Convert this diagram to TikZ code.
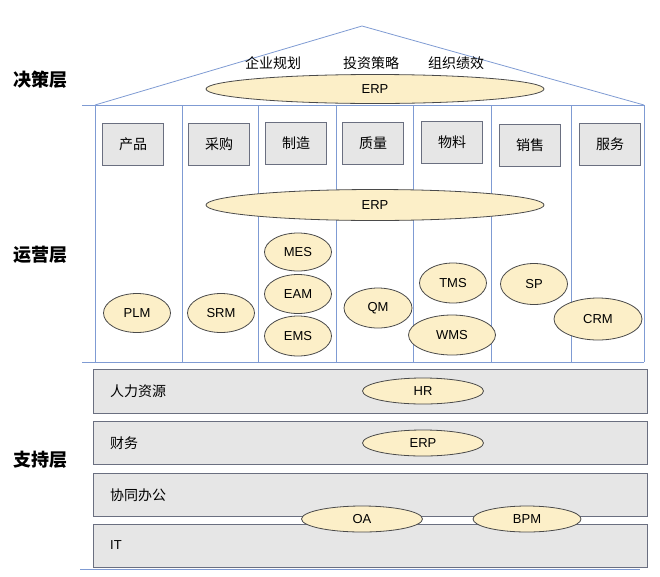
\documentclass[tikz,border=0pt]{standalone}
\usepackage{fontspec}
\setmainfont{Liberation Sans}
\newfontfamily\cjk{Noto Sans CJK SC}
\usetikzlibrary{shapes.geometric}
\definecolor{wallblue}{HTML}{7F9BD3}
\definecolor{sysfill}{HTML}{FCEFC8}
\definecolor{sysline}{HTML}{4A4A4A}
\definecolor{boxfill}{HTML}{E6E6E6}
\definecolor{boxline}{HTML}{6A6F80}
\tikzset{
  sys/.style={ellipse, draw=sysline, fill=sysfill, line width=0.8pt, inner sep=0pt,
    minimum width=67pt, minimum height=39pt, font=\fontsize{13}{15}\selectfont},
  dept/.style={draw=boxline, fill=boxfill, line width=0.8pt, minimum width=61pt,
    minimum height=42pt, inner sep=0pt, font=\cjk\fontsize{14}{16}\selectfont},
  band/.style={draw=boxline, fill=boxfill, line width=0.8pt},
  cjklabel/.style={font=\cjk\fontsize{14}{16}\selectfont, inner sep=0pt},
  layer/.style={font=\cjk\bfseries\fontsize{18}{20}\selectfont, inner sep=0pt},
  wall/.style={draw=wallblue, line width=0.8pt},
}
\begin{document}
\begin{tikzpicture}[x=1pt,y=-1pt]
  \useasboundingbox (0,0) rectangle (660,576);
  % coordinates for the roof
  \coordinate (roofl) at (95,105);
  \coordinate (apex)  at (362,26);
  \coordinate (roofr) at (644,105);
  % drawing the house
  \draw[wall] (roofl) -- (apex) -- (roofr);
  \draw[wall] (82,105) -- (644,105);
  \foreach \x in {95,182,258,336,413,491,571,644}
    \draw[wall] (\x,105) -- (\x,362);
  \draw[wall] (82,362) -- (644,362);
  % layer names
  \node[layer] (decide)  at (40,80)  {决策层};
  \node[layer] (operate) at (40,255) {运营层};
  \node[layer] (support) at (40,460) {支持层};
  % decision layer
  \node[cjklabel] (plan)   at (273,63) {企业规划};
  \node[cjklabel] (invest) at (371,63) {投资策略};
  \node[cjklabel] (perf)   at (456,63) {组织绩效};
  \node[sys, minimum width=338pt, minimum height=29pt] (erptop) at (375,89) {ERP};
  % departments
  \node[dept] (product) at (133,144) {产品};
  \node[dept] (purchase) at (219,144) {采购};
  \node[dept] (make)    at (296,143) {制造};
  \node[dept] (quality) at (373,143) {质量};
  \node[dept] (material) at (452,142) {物料};
  \node[dept] (sales)   at (530,145) {销售};
  \node[dept] (service) at (610,144) {服务};
  % operation layer
  \node[sys, minimum width=338pt, minimum height=31pt] (erpmid) at (375,205) {ERP};
  \node[sys] (plm) at (137,313) {PLM};
  \node[sys] (srm) at (221,313) {SRM};
  \node[sys, minimum height=38pt] (mes) at (298,252) {MES};
  \node[sys] (eam) at (298,294) {EAM};
  \node[sys, minimum height=40pt] (ems) at (298,336) {EMS};
  \node[sys, minimum width=68pt, minimum height=40pt] (qm) at (378,308) {QM};
  \node[sys, minimum height=40pt] (tms) at (453,283) {TMS};
  \node[sys, minimum width=87pt, minimum height=40pt] (wms) at (452,335) {WMS};
  \node[sys, minimum height=41pt] (sp) at (534,284) {SP};
  \node[sys, minimum width=88pt, minimum height=42pt] (crm) at (598,319) {CRM};
  % support layer
  \draw[band] (93,369) rectangle (647,413);
  \draw[band] (93,421) rectangle (647,464);
  \draw[band] (93,473) rectangle (647,516);
  \draw[band] (93,524) rectangle (647,567);
  \draw[wall] (80,569) -- (640,569);
  \node[cjklabel, anchor=west] (hrname)  at (110,391) {人力资源};
  \node[cjklabel, anchor=west] (finname) at (110,443) {财务};
  \node[cjklabel, anchor=west] (oaname)  at (110,495) {协同办公};
  \node[anchor=west, inner sep=0pt, font=\fontsize{13}{15}\selectfont] (itname) at (110,545) {IT};
  \node[sys, minimum width=121pt, minimum height=26pt] (hr)     at (423,391) {HR};
  \node[sys, minimum width=121pt, minimum height=26pt] (erpfin) at (423,443) {ERP};
  \node[sys, minimum width=121pt, minimum height=26pt] (oa)     at (362,519) {OA};
  \node[sys, minimum width=108pt, minimum height=26pt] (bpm)    at (527,519) {BPM};
\end{tikzpicture}
\end{document}
